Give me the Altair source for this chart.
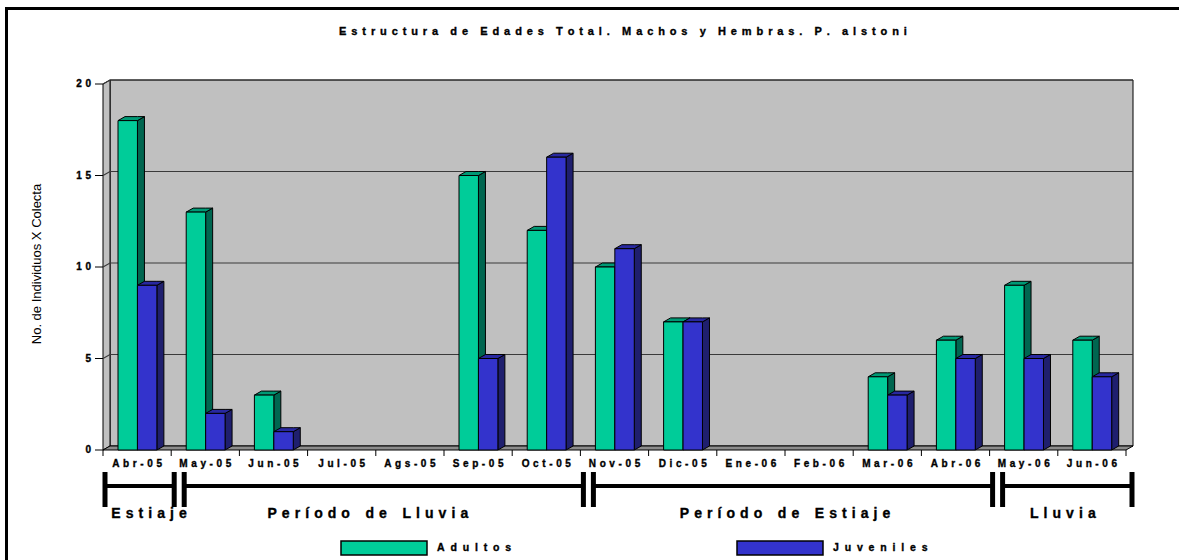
import altair as alt
import pandas as pd

# ---------------- data ----------------
months = ["Abr-05", "May-05", "Jun-05", "Jul-05", "Ags-05", "Sep-05", "Oct-05",
          "Nov-05", "Dic-05", "Ene-06", "Feb-06", "Mar-06", "Abr-06", "May-06", "Jun-06"]
adultos = [18, 13, 3, 0, 0, 15, 12, 10, 7, 0, 0, 4, 6, 9, 6]
juveniles = [9, 2, 1, 0, 0, 5, 16, 11, 7, 0, 0, 3, 5, 5, 4]
series = ["Adultos", "Juveniles"]
y_ticks = [0, 5, 10, 15, 20]
seasons = ["Estiaje", "Período de Lluvia", "Período de Estiaje", "Lluvia"]
season_first = [0, 1, 7, 13]   # index of first month of each season
season_last = [0, 6, 12, 14]   # index of last month of each season
title_text = "Estructura de Edades Total. Machos y Hembras. P. alstoni"
y_title = "No. de Individuos X Colecta"

# ---------------- style / geometry ----------------
FONT = "Liberation Sans, Arial, sans-serif"
W, H = 1030, 370
PAD = {"left": 103, "top": 80, "right": 1179 - 103 - W, "bottom": 560 - 80 - H}
DX_PX, DY_PX = 7, 4
N = len(months)
BAND = (W - DX_PX) / N
PPU = (H - DY_PX) / 20.0
DXU = DX_PX / BAND
DYU = DY_PX / PPU
X_MAX = N + DXU
Y_MAX = 20 + DYU
BAR_START, BAR_W = 0.22, 0.285

front_col = {"Adultos": "#00CC99", "Juveniles": "#3333CC"}
side_col = {"Adultos": "#006650", "Juveniles": "#1F1F6E"}
top_col = {"Adultos": "#009975", "Juveniles": "#2828A0"}

NB = "\u00a0"
HAIR = "\u200a"
SIXTH = "\u2006"
BOLD_TXT = dict(font=FONT, fontWeight="bold", color="black", stroke="black", strokeWidth=0.35)


def spaced(s, gap, word_gap):
    out = []
    for w in s.split(" "):
        out.append(gap.join(list(w)))
    return word_gap.join(out)


XS = alt.Scale(domain=[0, X_MAX], nice=False, zero=False)
YS = alt.Scale(domain=[0, Y_MAX], nice=False, zero=False)


def X(f):
    return alt.X(f, type="quantitative", scale=XS, axis=None)


def Y(f):
    return alt.Y(f, type="quantitative", scale=YS, axis=None)


one = pd.DataFrame({"a": [0]})

# ---------------- tables built from the arrays ----------------
bars, sides, tops = [], [], []
for i, m in enumerate(months):
    for k, (s, vals) in enumerate(zip(series, [adultos, juveniles])):
        v = vals[i]
        if v <= 0:
            continue
        bid = f"{i}-{k}"
        x0 = i + BAR_START + k * BAR_W
        x1 = x0 + BAR_W
        bars.append(dict(id=bid, series=s, v=v, x0=x0, x1=x1, fill=front_col[s]))
        sides += [dict(id=bid, x=x1, t=v, b=0, fill=side_col[s]),
                  dict(id=bid, x=x1 + DXU, t=v + DYU, b=DYU, fill=side_col[s])]
        tops += [dict(id=bid, x=x0, t=v, b=v, fill=top_col[s]),
                 dict(id=bid, x=x0 + DXU, t=v + DYU, b=v, fill=top_col[s]),
                 dict(id=bid, x=x1, t=v + DYU, b=v, fill=top_col[s]),
                 dict(id=bid, x=x1 + DXU, t=v + DYU, b=v + DYU, fill=top_col[s])]
bars, sides, tops = pd.DataFrame(bars), pd.DataFrame(sides), pd.DataFrame(tops)

wall = pd.DataFrame({"x0": [DXU], "x1": [N + DXU], "y0": [DYU], "y1": [Y_MAX]})
left_wall = pd.DataFrame({"x": [0, DXU], "t": [20, 20 + DYU], "b": [0, DYU]})
floor = pd.DataFrame({"x": [0, DXU, N, N + DXU], "t": [0, DYU, DYU, DYU], "b": [0, 0, 0, DYU]})

grid = []
for v in y_ticks[1:]:
    grid += [dict(g=v, o=0, x=0, y=v), dict(g=v, o=1, x=DXU, y=v + DYU),
             dict(g=v, o=2, x=N + DXU, y=v + DYU)]
grid = pd.DataFrame(grid)

yt = pd.DataFrame({"v": y_ticks, "lab": [spaced(str(v), NB + HAIR, "") for v in y_ticks]})
xt = pd.DataFrame({"x": list(range(N + 1))})
xl = pd.DataFrame({"x": [i + 0.5 for i in range(N)],
                   "lab": [spaced(m, NB + HAIR, "") for m in months]})

s_start = [f + (2 if f == 0 else 13) / BAND for f in season_first]
s_end = [l + 1 + (6 if l == N - 1 else 3) / BAND for l in season_last]
# label centres: middle of each season (the one-month first season nudged clear of its end bar)
lab_nudge_px = [12, -8, 0, 5]
sea = pd.DataFrame({"s": s_start, "e": s_end,
                    "mid": [(f + l + 1) / 2 + d / BAND
                            for f, l, d in zip(season_first, season_last, lab_nudge_px)],
                    "lab": [spaced(s, NB + HAIR, NB * 4) for s in seasons]})
sea_bars = pd.DataFrame({"x": s_start + s_end})

# ---------------- layers ----------------
layers = []

layers.append(alt.Chart(one).mark_rect(fillOpacity=0, stroke="black", strokeWidth=3).encode(
    x=alt.value(-PAD["left"] + 6.5), x2=alt.value(W + PAD["right"] + 20),
    y=alt.value(-PAD["top"] + 8.5), y2=alt.value(H + PAD["bottom"] + 20)))

layers.append(alt.Chart(wall).mark_rect(fill="#C0C0C0", stroke="black", strokeWidth=1).encode(
    x=X("x0"), x2="x1", y=Y("y0"), y2="y1"))

layers.append(alt.Chart(left_wall).mark_area(fill="#C0C0C0", stroke="black", strokeWidth=1).encode(
    x=X("x"), y=Y("t"), y2="b"))

layers.append(alt.Chart(floor).mark_area(fill="#8C8C8C", stroke="black", strokeWidth=1).encode(
    x=X("x"), y=Y("t"), y2="b"))

layers.append(alt.Chart(grid).mark_line(color="#3A3A3A", strokeWidth=1.2).encode(
    x=X("x"), y=Y("y"), detail="g:N", order="o:Q"))

layers.append(alt.Chart(yt).mark_rule(color="black", strokeWidth=1).encode(
    x=alt.value(-8), x2=alt.value(0), y=Y("v")))

layers.append(alt.Chart(yt).mark_text(align="right", baseline="middle", fontSize=10, **BOLD_TXT).encode(
    x=alt.value(-12), y=Y("v"), text="lab:N"))

layers.append(alt.Chart(xt).mark_rule(color="black", strokeWidth=1).encode(
    x=X("x"), y=alt.value(H), y2=alt.value(H + 6)))

layers.append(alt.Chart(xl).mark_text(align="center", baseline="middle", fontSize=10, **BOLD_TXT).encode(
    x=X("x"), y=alt.value(H + 14), text="lab:N"))

layers.append(alt.Chart(sides).mark_area(stroke="black", strokeWidth=1).encode(
    x=X("x"), y=Y("t"), y2="b", detail="id:N", fill=alt.Fill("fill:N", scale=None)))

layers.append(alt.Chart(tops).mark_area(stroke="black", strokeWidth=1).encode(
    x=X("x"), y=Y("t"), y2="b", detail="id:N", fill=alt.Fill("fill:N", scale=None)))

layers.append(alt.Chart(bars).mark_rect(stroke="black", strokeWidth=1).encode(
    x=X("x0"), x2="x1", y=Y("v"), y2=alt.datum(0), fill=alt.Fill("fill:N", scale=None)))

# seasons bracket
layers.append(alt.Chart(sea).mark_rule(color="black", strokeWidth=4).encode(
    x=X("s"), x2="e", y=alt.value(406)))
layers.append(alt.Chart(sea_bars).mark_rule(color="black", strokeWidth=5).encode(
    x=X("x"), y=alt.value(392), y2=alt.value(427)))
layers.append(alt.Chart(sea).mark_text(align="center", baseline="middle", fontSize=14, **BOLD_TXT).encode(
    x=X("mid"), y=alt.value(434), text="lab:N"))

# legend
for k, s in enumerate(series):
    lx = 238 + k * 396
    layers.append(alt.Chart(one).mark_rect(fill=front_col[s], stroke="black", strokeWidth=1.5).encode(
        x=alt.value(lx), x2=alt.value(lx + 86), y=alt.value(461), y2=alt.value(475)))
    layers.append(alt.Chart(pd.DataFrame({"lab": [spaced(s, NB * 2, NB * 5)]})).mark_text(
        align="left", baseline="middle", fontSize=10.5, **BOLD_TXT).encode(
        x=alt.value(lx + 96), y=alt.value(468), text="lab:N"))

# titles
layers.append(alt.Chart(pd.DataFrame({"lab": [spaced(title_text, NB + SIXTH, NB * 4)]})).mark_text(
    align="center", baseline="middle", fontSize=11, **BOLD_TXT).encode(
    x=alt.value(520), y=alt.value(-48), text="lab:N"))

layers.append(alt.Chart(pd.DataFrame({"lab": [y_title]})).mark_text(
    align="center", baseline="middle", font=FONT, fontSize=13, angle=270,
    color="black").encode(x=alt.value(-66), y=alt.value(184), text="lab:N"))

chart = alt.layer(*layers).properties(
    width=W, height=H, padding=PAD,
    autosize=alt.AutoSizeParams(type="none"),
    background="white",
).configure_view(stroke=None)

chart.save("out.html", embed_options={"renderer": "svg", "actions": False})
